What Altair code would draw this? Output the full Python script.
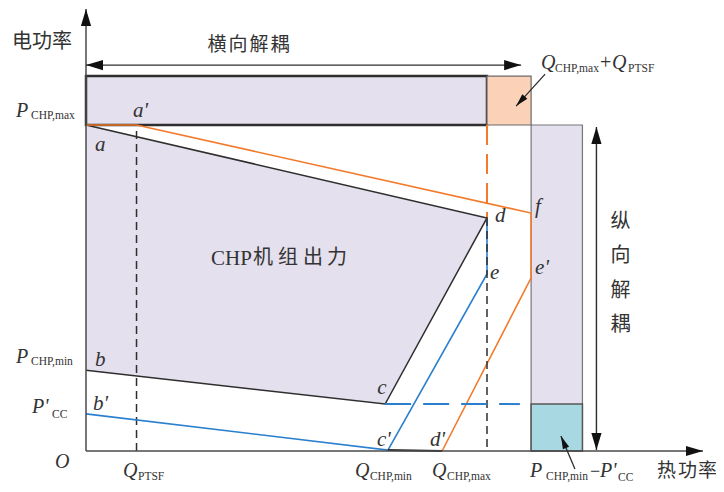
import math
import numpy as np
import pandas as pd
import altair as alt

# ---------------- values (Q: heat power, P: electric power) ----------------
Q_PTSF = 12.6          # Q_PTSF
Q_C = 74.6             # point c
Q_CHP_MIN = 75.3       # Q_CHP,min (point c')
Q_D_PRIME = 88.8       # point d'
Q_CHP_MAX = 100.0      # Q_CHP,max (points d, e)
Q_TOTAL = 111.0        # Q_CHP,max + Q_PTSF (points f, e')
Q_VBAR_END = 123.8     # right edge of vertical decoupling band

P_CHP_MAX = 100.0      # P_CHP,max (a, a')
P_D = 71.5             # point d
P_F = 73.0             # point f
P_E = 54.3             # point e
P_E_PRIME = 53.1       # point e'
P_CHP_MIN = 24.8       # P_CHP,min (b)
P_C = 14.4             # point c
P_CC = 11.4            # P'_CC (b')
P_C_PRIME = 0.3        # point c'
P_BAND_TOP = 115.0     # top of horizontal decoupling band

# polygon of CHP operating region a-d-c-b
region_q = [0, Q_CHP_MAX, Q_C, 0]
region_p = [P_CHP_MAX, P_D, P_C, P_CHP_MIN]
# orange boundary a-a'-f-e'-d'
orange_q = [0, Q_PTSF, Q_TOTAL, Q_TOTAL, Q_D_PRIME]
orange_p = [P_CHP_MAX, P_CHP_MAX, P_F, P_E_PRIME, 0]
# blue boundary b'-c'-e-d
blue_q = [0, Q_CHP_MIN, Q_CHP_MAX, Q_CHP_MAX]
blue_p = [P_CC, P_C_PRIME, P_E, P_D]

# ---------------- layout ----------------
W, H = 708, 476
OX, OY = 86 - 8, 451 - 8          # origin inside plot area (px)
SX, SY = 4.01, 3.26               # px per unit
x_dom = [-OX / SX, (W - OX) / SX]
y_dom = [-(H - OY) / SY, OY / SY]
X = alt.X("q:Q", scale=alt.Scale(domain=x_dom, nice=False, zero=False), axis=None)
Y = alt.Y("p:Q", scale=alt.Scale(domain=y_dom, nice=False, zero=False), axis=None)

LAV = "#e4e0ed"
ORANGE = "#f37a2a"
ORANGE_FILL = "#fbd2b8"
BLUE = "#2a7fcf"
LIGHT_BLUE = "#a8d9e3"
DARK = "#2e2e2e"
AXIS = "#4a4a4a"
TXT = "#333333"

layers = []


def rect(q1, q2, p1, p2, fill, stroke, sw):
    df = pd.DataFrame({"q": [q1], "q2": [q2], "p": [p1], "p2": [p2]})
    return alt.Chart(df).mark_rect(fill=fill, stroke=stroke, strokeWidth=sw).encode(
        x=X, x2="q2:Q", y=Y, y2="p2:Q")


def path(qs, ps, color, width=1.5, dash=None):
    df = pd.DataFrame({"q": qs, "p": ps, "o": list(range(len(qs)))})
    kw = dict(color=color, strokeWidth=width, strokeCap="butt")
    if dash:
        kw["strokeDash"] = dash
    return alt.Chart(df).mark_line(**kw).encode(x=X, y=Y, order="o:O")


# bands
layers.append(rect(Q_TOTAL, Q_VBAR_END, 0, P_CHP_MAX, LAV, "#777777", 1.2))
layers.append(rect(Q_TOTAL, Q_VBAR_END, 0, P_C, LIGHT_BLUE, "#555555", 1.5))
layers.append(rect(0, Q_CHP_MAX, P_CHP_MAX, P_BAND_TOP, LAV, DARK, 2.5))
layers.append(rect(Q_CHP_MAX, Q_TOTAL, P_CHP_MAX, P_BAND_TOP, ORANGE_FILL, "#6a6a6a", 1.2))

# CHP region fill
xs = [0, Q_C, Q_CHP_MAX]
upper = np.interp(xs, [0, Q_CHP_MAX], [P_CHP_MAX, P_D])
lower = np.interp(xs, [0, Q_C, Q_CHP_MAX], [P_CHP_MIN, P_C, P_D])
area_df = pd.DataFrame({"q": xs, "p": upper, "p2": lower})
layers.append(alt.Chart(area_df).mark_area(color=LAV, opacity=1, orient="vertical").encode(
    x=X, y=Y, y2="p2:Q"))

# dashed guides
layers.append(path([Q_PTSF, Q_PTSF], [0, P_CHP_MAX], DARK, 1.5, [8, 5]))
layers.append(path([Q_CHP_MAX, Q_CHP_MAX], [P_CHP_MAX, P_D], ORANGE, 2, [20, 9]))

# boundaries
layers.append(path(region_q, region_p, DARK, 1.5))
layers.append(path(orange_q, orange_p, ORANGE, 1.6))
layers.append(path(blue_q, blue_p, BLUE, 1.6))
layers.append(path([Q_CHP_MIN, Q_D_PRIME], [P_C_PRIME, 0], DARK, 1.8))
layers.append(path([Q_CHP_MAX, Q_CHP_MAX], [P_D, 0], DARK, 1.5, [8, 5]))
layers.append(path([Q_C, Q_C + 33.6], [P_C, P_C], BLUE, 2, [26, 12]))

# axes and arrows
Y_TIP = (OY - 1) / SY
X_TIP = (703 - 86) / SX
H_ARROW_P = P_BAND_TOP + 11 / SY
H_ARROW_END = Q_TOTAL - 10 / SX
V_ARROW_Q = Q_VBAR_END + 14 / SX
V_ARROW_TOP = P_CHP_MAX - 2 / SY
V_ARROW_BOT = 0.3

layers.append(path([0, 0], [0, Y_TIP], AXIS, 1.5))
layers.append(path([0, X_TIP], [0, 0], AXIS, 1.5))
layers.append(path([0, H_ARROW_END], [H_ARROW_P, H_ARROW_P], DARK, 1.4))
layers.append(path([V_ARROW_Q, V_ARROW_Q], [V_ARROW_BOT, V_ARROW_TOP], DARK, 1.4))

# pointers (tail -> tip)
ptr1 = (Q_TOTAL + 14 / SX, P_BAND_TOP + 2 / SY, Q_TOTAL - 15 / SX, P_BAND_TOP - 30 / SY)
ptr2 = (Q_VBAR_END - 7.5 / SX, -18 / SY, Q_VBAR_END - 21.5 / SX, 15 / SY)
layers.append(path([ptr1[0], ptr1[2]], [ptr1[1], ptr1[3]], DARK, 1.3))
layers.append(path([ptr2[0], ptr2[2]], [ptr2[1], ptr2[3]], DARK, 1.3))


def heading(q0, p0, q1, p1):
    dxp = (q1 - q0) * SX
    dyp = -(p1 - p0) * SY
    return math.degrees(math.atan2(dxp, -dyp)) % 360


heads = pd.DataFrame([
    dict(q=0, p=Y_TIP, a=0, s=(2 * 17) ** 2),
    dict(q=X_TIP, p=0, a=90, s=(2 * 17) ** 2),
    dict(q=0, p=H_ARROW_P, a=270, s=(2 * 17) ** 2),
    dict(q=H_ARROW_END, p=H_ARROW_P, a=90, s=(2 * 17) ** 2),
    dict(q=V_ARROW_Q, p=V_ARROW_TOP, a=0, s=(2 * 17) ** 2),
    dict(q=V_ARROW_Q, p=V_ARROW_BOT, a=180, s=(2 * 17) ** 2),
])
layers.append(alt.Chart(heads).mark_point(
    shape="M0,0L-0.3,1L0.3,1Z", filled=True, color="#111111", opacity=1, strokeWidth=0
).encode(x=X, y=Y, angle=alt.Angle("a:Q", scale=None), size=alt.Size("s:Q", scale=None)))

small_heads = pd.DataFrame([
    dict(q=ptr1[2], p=ptr1[3], a=heading(*ptr1), s=(2 * 13) ** 2),
    dict(q=ptr2[2], p=ptr2[3], a=heading(*ptr2), s=(2 * 13) ** 2),
])
layers.append(alt.Chart(small_heads).mark_point(
    shape="M0,0L-0.26,1L0.26,1Z", filled=True, color="#111111", opacity=1, strokeWidth=0
).encode(x=X, y=Y, angle=alt.Angle("a:Q", scale=None), size=alt.Size("s:Q", scale=None)))

# ---------------- text ----------------
labels = []


def lab(t, q, p, dx, dy, s, kind):
    labels.append(dict(t=t, q=q + dx / SX, p=p - dy / SY, s=s, kind=kind))


MS, SS = 20, 11.5
BM, BS = 26, 29   # baselines of bottom labels (main, subscript) below the axis
# axis value labels
lab("P", 0, P_CHP_MAX, -70, -8, MS, "it"); lab("CHP,max", 0, P_CHP_MAX, -55, -6, SS, "rm")
lab("P", 0, P_CHP_MIN, -70, -7, MS, "it"); lab("CHP,min", 0, P_CHP_MIN, -55, -5, SS, "rm")
lab("P'", 0, P_CC, -54, -1, MS, "it"); lab("CC", 0, P_CC, -34, 4, SS, "rm")
lab("O", 0, 0, -31, 17, MS, "it")
lab("Q", Q_PTSF, 0, -13.5, BM, MS, "it"); lab("PTSF", Q_PTSF, 0, 1.5, BS, SS, "rm")
lab("Q", Q_CHP_MIN, 0, -33, BM, MS, "it"); lab("CHP,min", Q_CHP_MIN, 0, -18, BS, SS, "rm")
lab("Q", Q_CHP_MAX, 0, -55, BM, MS, "it"); lab("CHP,max", Q_CHP_MAX, 0, -40, BS, SS, "rm")
lab("P", Q_TOTAL, 0, -1, BM, MS, "it"); lab("CHP,min", Q_TOTAL, 0, 15, BS, SS, "rm")
lab("\u2212", Q_TOTAL, 0, 59, BM, 18, "rm"); lab("P'", Q_TOTAL, 0, 69, BM, MS, "it")
lab("CC", Q_TOTAL, 0, 87, BS + 1, SS, "rm")
lab("Q", Q_TOTAL, P_BAND_TOP, 10, -7, MS, "it"); lab("CHP,max", Q_TOTAL, P_BAND_TOP, 24, -4, SS, "rm")
lab("+", Q_TOTAL, P_BAND_TOP, 69, -7, MS, "rm"); lab("Q", Q_TOTAL, P_BAND_TOP, 81, -7, MS, "it")
lab("PTSF", Q_TOTAL, P_BAND_TOP, 97, -4, SS, "rm")
# point labels
PS = 21
lab("a'", Q_PTSF, P_CHP_MAX, -3.5, -8, PS, "it")
lab("a", 0, P_CHP_MAX, 9, 26, PS, "it")
lab("b", 0, P_CHP_MIN, 9, -4, PS, "it")
lab("b'", 0, P_CC, 7, -4, PS, "it")
lab("c", Q_C, P_C, -8, -10, PS, "it")
lab("c'", Q_CHP_MIN, P_C_PRIME, -11, -4, PS, "it")
lab("d'", Q_D_PRIME, 0, -12, -5, PS, "it")
lab("d", Q_CHP_MAX, P_D, 8, 4, PS, "it")
lab("e", Q_CHP_MAX, P_E, 3, 5, PS, "it")
lab("e'", Q_TOTAL, P_E_PRIME, 4, -4, PS, "it")
lab("f", Q_TOTAL, P_F, 4, 0, PS, "it")
# region label
lab("CHP", 0, P_CHP_MAX, 125, 140, 21, "rm")
for ch, dx in zip("机组出力", [177, 202, 227, 251]):
    lab(ch, 0, P_CHP_MAX, dx, 133, 20, "cjk")
# axis titles
lab("电功率", 0, P_BAND_TOP, -44, -34, 20, "cjk")
for ch, dx in zip("横向解耦", [131, 152, 173, 194]):
    lab(ch, 0, P_BAND_TOP, dx, -31, 19, "cjk")
for ch, dy in zip("纵向解耦", [-229, -195, -160, -126]):
    lab(ch, Q_VBAR_END, 0, 38, dy, 20, "cjk")
for ch, dx in zip("热功率", [84, 105, 125]):
    lab(ch, Q_VBAR_END, 0, dx, 20, 19, "cjk")

ldf = pd.DataFrame(labels)


def text_layer(kind, font, style, align, baseline):
    d = ldf[ldf.kind == kind]
    return alt.Chart(d).mark_text(font=font, fontStyle=style, align=align, baseline=baseline,
                                  color=TXT).encode(
        x=X, y=Y, text="t:N", size=alt.Size("s:Q", scale=None))


layers.append(text_layer("it", "Liberation Serif", "italic", "left", "alphabetic"))
layers.append(text_layer("rm", "Liberation Serif", "normal", "left", "alphabetic"))
layers.append(text_layer("cjk", "Noto Sans CJK SC", "normal", "center", "middle"))

chart = alt.layer(*layers).properties(
    width=W, height=H, autosize=alt.AutoSizeParams(type="none"), padding=0,
    background="white"
).configure_view(stroke=None)

chart.save("out.html", embed_options={"renderer": "svg", "actions": False})
